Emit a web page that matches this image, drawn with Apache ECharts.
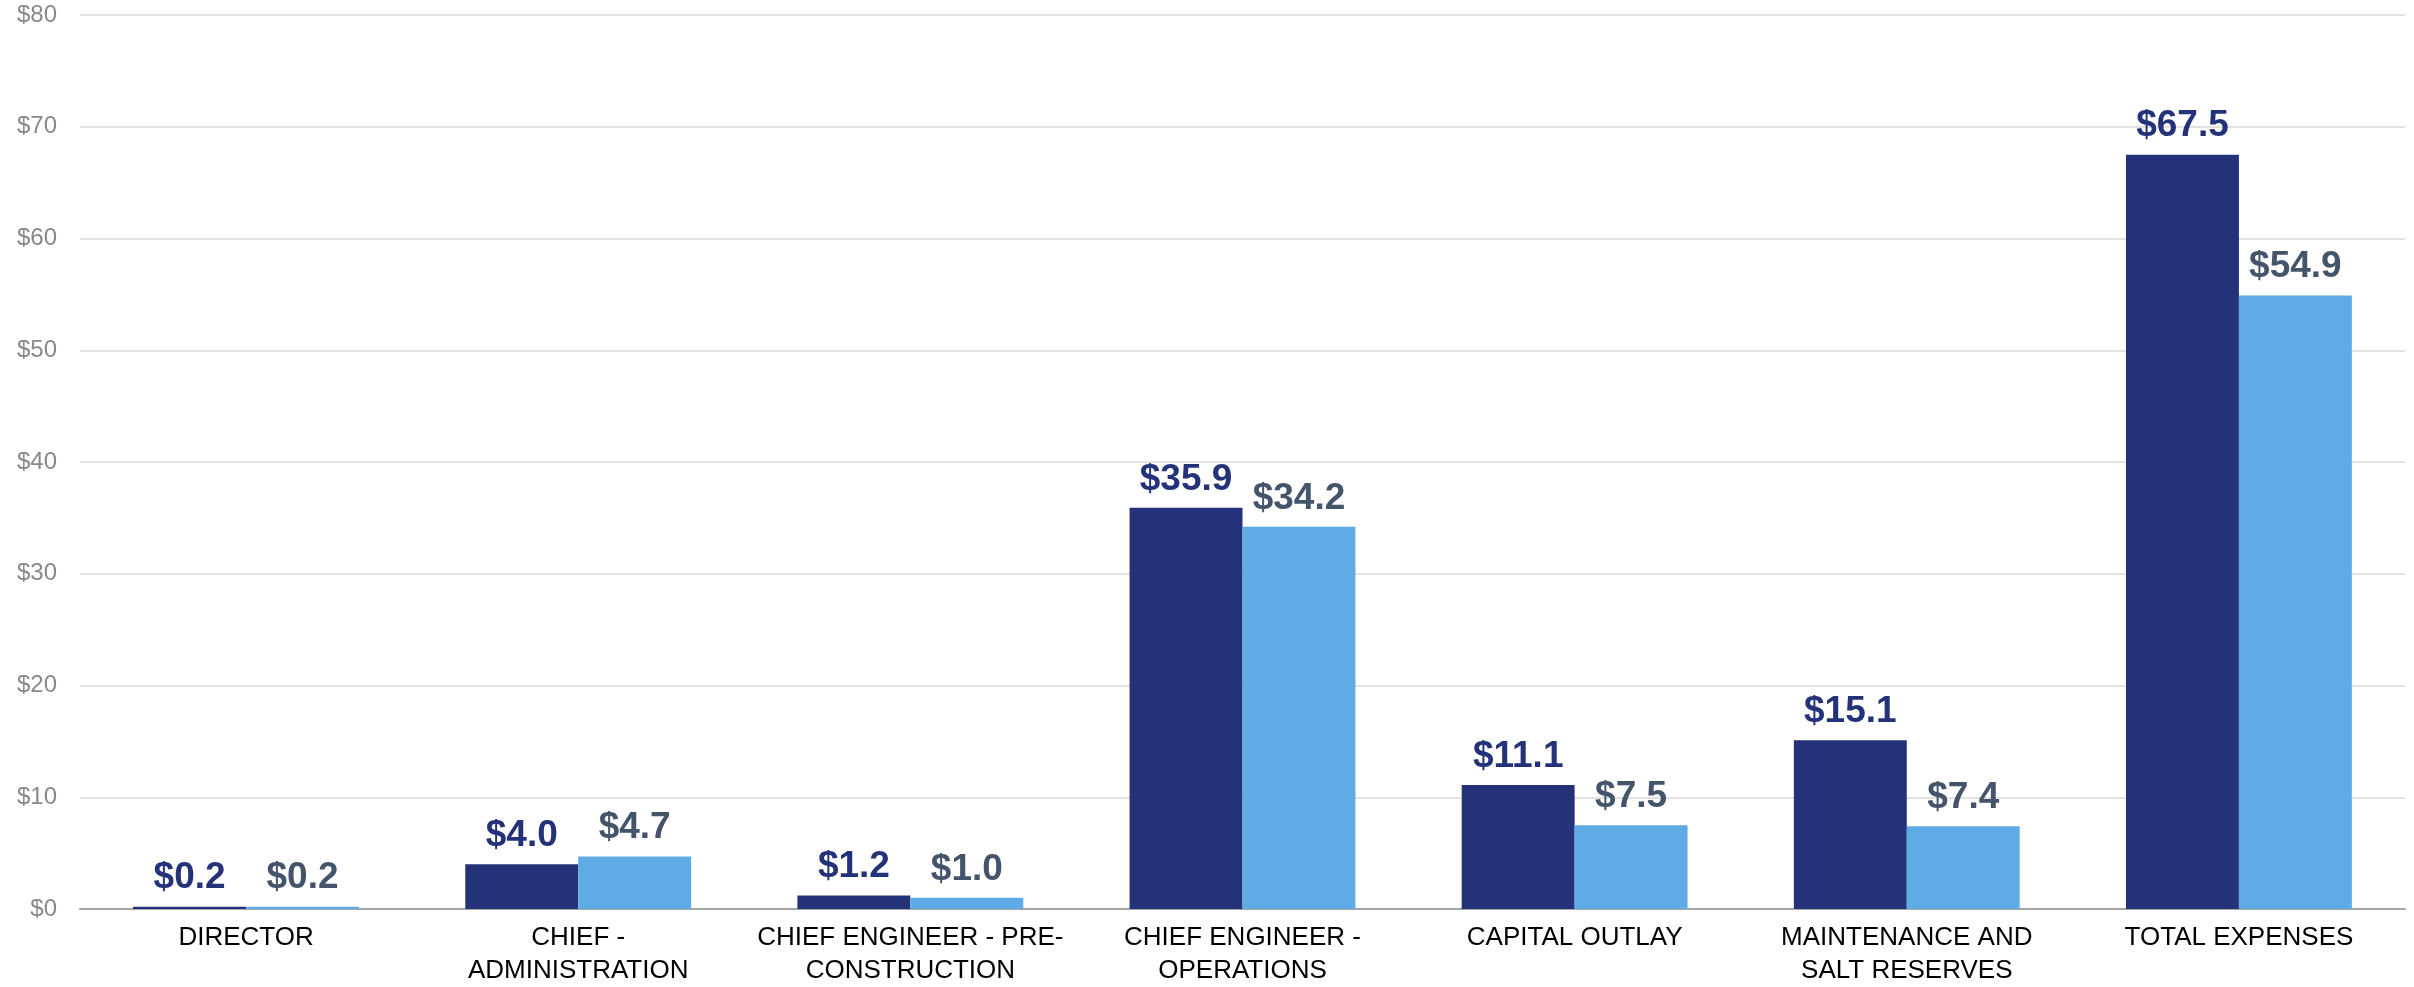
<!DOCTYPE html>
<html>
<head>
<meta charset="UTF-8">
<title>Expenses by division</title>
<script src="https://cdn.jsdelivr.net/npm/echarts@6/dist/echarts.min.js"></script>
<style>
  html, body { margin: 0; padding: 0; background: #fff; }
  #chart { width: 2414px; height: 987px; }
</style>
</head>
<body>
<div id="chart"></div>
<script>
// categories on the x axis (line breaks as in the original)
var categories = [
  'DIRECTOR',
  'CHIEF -\nADMINISTRATION',
  'CHIEF ENGINEER - PRE-\nCONSTRUCTION',
  'CHIEF ENGINEER -\nOPERATIONS',
  'CAPITAL OUTLAY',
  'MAINTENANCE AND\nSALT RESERVES',
  'TOTAL EXPENSES'
];
// dark bars (first series) and light bars (second series), in $ millions
var seriesA = [0.2, 4.0, 1.2, 35.9, 11.1, 15.1, 67.5];
var seriesB = [0.2, 4.7, 1.0, 34.2, 7.5, 7.4, 54.9];
var yTicks = [0, 10, 20, 30, 40, 50, 60, 70, 80];

var chart = echarts.init(document.getElementById('chart'));

function barLabel(color) {
  return {
    show: true,
    position: 'top',
    distance: 10,
    color: color,
    fontFamily: 'Liberation Sans, Arial, sans-serif',
    fontWeight: 'bold',
    fontSize: 37,
    formatter: function (p) { return '$' + p.value.toFixed(1); }
  };
}

chart.setOption({
  animation: false,
  grid: { left: 80, right: 9, top: 15, bottom: 76 },
  xAxis: {
    type: 'category',
    data: categories,
    axisTick: { show: false },
    axisLine: { lineStyle: { color: '#a6a6a6', width: 2 } },
    axisLabel: {
      color: '#000',
      fontFamily: 'Liberation Sans, Arial, sans-serif',
      fontSize: 26,
      lineHeight: 33,
      margin: 12,
      interval: 0
    }
  },
  yAxis: {
    type: 'value',
    min: yTicks[0],
    max: yTicks[yTicks.length - 1],
    interval: 10,
    axisLine: { show: false },
    axisTick: { show: false },
    splitLine: { lineStyle: { color: '#d9d9d9', width: 1.5 } },
    axisLabel: {
      color: '#898989',
      fontFamily: 'Liberation Sans, Arial, sans-serif',
      fontSize: 24,
      margin: 23,
      formatter: function (v) { return '$' + v; }
    }
  },
  series: [
    {
      type: 'bar',
      data: seriesA,
      barGap: '0%',
      barCategoryGap: '32%',
      itemStyle: { color: '#243279' },
      label: barLabel('#243279')
    },
    {
      type: 'bar',
      data: seriesB,
      itemStyle: { color: '#5fabe5' },
      label: barLabel('#44546a')
    }
  ]
});
</script>
</body>
</html>
